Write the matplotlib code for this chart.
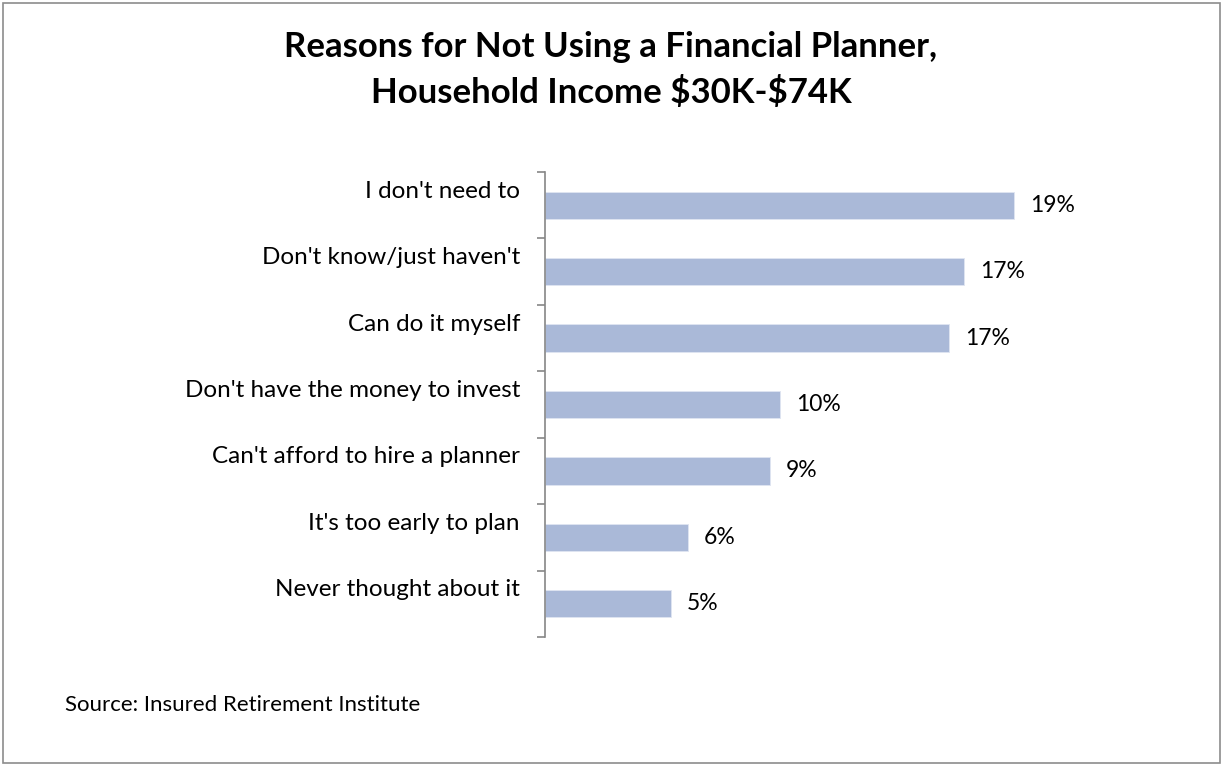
import matplotlib
matplotlib.use('Agg')
import matplotlib.pyplot as plt
import matplotlib.transforms as mtransforms
from matplotlib.patches import Rectangle

# Survey results, top reason first
reasons = ["I don't need to",
           "Don't know/just haven't",
           "Can do it myself",
           "Don't have the money to invest",
           "Can't afford to hire a planner",
           "It's too early to plan",
           "Never thought about it"]
shares = [19.4, 17.3, 16.7, 9.7, 9.3, 5.9, 5.2]

title = 'Reasons for Not Using a Financial Planner,\nHousehold Income \\$30K-\\$74K'
source = 'Source: Insured Retirement Institute'

barColor = '#aab9d8'
spineColor = '#868686'

plt.rcParams['font.family'] = ['Lato', 'DejaVu Sans']

W, H = 1223, 765
figure = plt.figure(figsize=(W / 100, H / 100), dpi=100)
figure.patch.set_facecolor('white')

# Outer frame around the whole chart
figure.patches.append(Rectangle((3 / W, 2 / H), (1220 - 3) / W, (762 - 2) / H,
                                transform=figure.transFigure, fill=False,
                                edgecolor='#8c8c8c', linewidth=1.2))

left, right, top, bottom = 545, 1100, 172, 637
axes = figure.add_axes([left / W, 1 - bottom / H, (right - left) / W,
                        (bottom - top) / H])

n = len(reasons)
positions = list(range(n))
axes.barh(positions, shares, height=0.41, color=barColor,
          edgecolor='#dfe5f1', linewidth=0.6)
axes.set_ylim(n - 0.5, -0.5)
axes.set_xlim(0, (right - left) / 24.2)

# Value labels to the right of each bar
for pos, value in zip(positions, shares):
   axes.annotate('%.0f%%' % value, xy=(value, pos), xytext=(11.5, 0),
                 textcoords='offset points', va='center', ha='left',
                 fontsize=16.5, color='black')

# Category labels sit slightly above the bar centres
axes.set_yticks(positions)
axes.set_yticklabels(reasons, fontsize=17.5)
axes.tick_params(axis='y', which='major', length=0, pad=18)
shift = mtransforms.ScaledTranslation(0, 16 / 100, figure.dpi_scale_trans)
for label in axes.get_yticklabels():
   label.set_transform(label.get_transform() + shift)

# Tick marks on the category boundaries
axes.set_yticks([p - 0.5 for p in positions] + [n - 0.5], minor=True)
axes.tick_params(axis='y', which='minor', length=6, width=1.2,
                 color=spineColor, direction='out')

axes.xaxis.set_visible(False)
for side in ['top', 'right', 'bottom']:
   axes.spines[side].set_visible(False)
axes.spines['left'].set_color(spineColor)
axes.spines['left'].set_linewidth(1.2)

figure.text(611 / W, 1 - 70 / H, title, ha='center', va='center',
            fontsize=25, fontweight='bold', linespacing=1.45)
figure.text(65 / W, 1 - 705 / H, source, ha='left', va='center',
            fontsize=16)

figure.savefig('out.png', dpi=100)
